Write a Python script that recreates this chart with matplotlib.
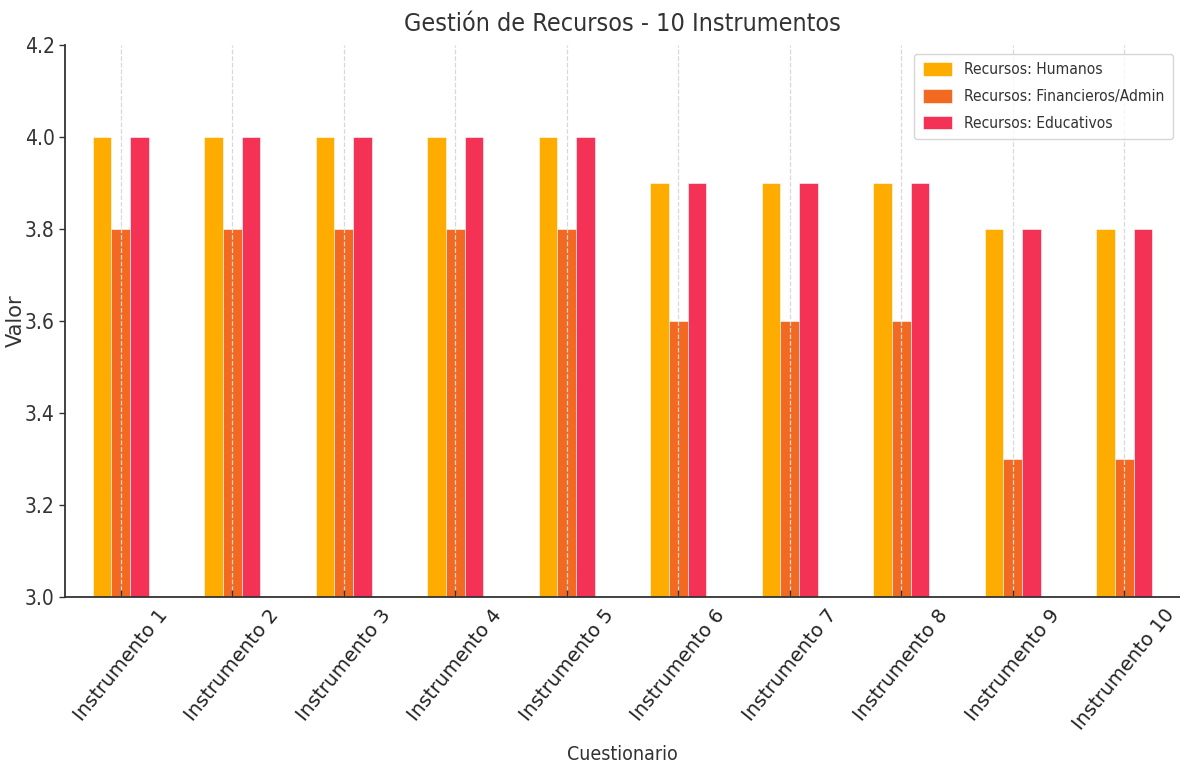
import matplotlib
matplotlib.use("Agg")
import matplotlib.pyplot as plt
import numpy as np

categories = [f"Instrumento {i}" for i in range(1, 11)]
series_names = ["Recursos: Humanos", "Recursos: Financieros/Admin", "Recursos: Educativos"]
humanos = [4.0, 4.0, 4.0, 4.0, 4.0, 3.9, 3.9, 3.9, 3.8, 3.8]
financieros = [3.8, 3.8, 3.8, 3.8, 3.8, 3.6, 3.6, 3.6, 3.3, 3.3]
educativos = [4.0, 4.0, 4.0, 4.0, 4.0, 3.9, 3.9, 3.9, 3.8, 3.8]
yticks = [3.0, 3.2, 3.4, 3.6, 3.8, 4.0, 4.2]

colors = ["#FFAC00", "#F26A22", "#F43256"]
cond = dict(family="DejaVu Sans", stretch="condensed")

fig = plt.figure(figsize=(11.8, 7.69), dpi=100)
ax = fig.add_axes([0.0551, 0.2237, 0.9449, 0.7178])

x = np.arange(len(categories))
w = 0.5 / 3
for k, (vals, name, c) in enumerate(zip([humanos, financieros, educativos], series_names, colors)):
    ax.bar(x + (k - 1) * w, vals, width=w, color=c, label=name,
           edgecolor="white", linewidth=0.4, zorder=2)

ax.set_xlim(-0.5, 9.5)
ax.set_ylim(3.0, 4.2)
ax.set_yticks(yticks)
ax.set_yticklabels([f"{v:.1f}" for v in yticks], fontsize=15, color="#333333", **cond)
ax.set_xticks(x)
ax.set_xticklabels(categories, rotation=51, ha="center", fontsize=14, color="#222222")
ax.tick_params(axis="x", direction="in", length=5, width=1, color="#333333", pad=6)
ax.tick_params(axis="y", direction="out", length=4, width=1, color="#333333")

ax.xaxis.grid(True, linestyle="--", color="#d8d8d8", linewidth=0.9, zorder=3)
ax.set_axisbelow(False)
for s in ["top", "right"]:
    ax.spines[s].set_visible(False)
for s in ["left", "bottom"]:
    ax.spines[s].set_color("#333333")
    ax.spines[s].set_linewidth(1.3)

ax.set_title("Gestión de Recursos - 10 Instrumentos", fontsize=18, color="#333333", pad=10, **cond)
ax.set_xlabel("Cuestionario", fontsize=14, color="#333333", **cond)
ax.xaxis.set_label_coords(0.5, -0.268)
ax.set_ylabel("Valor", fontsize=15, color="#333333")
ax.yaxis.set_label_coords(-0.035, 0.5)

leg = ax.legend(loc="upper right", prop=dict(size=11.2, **cond), frameon=True,
                fancybox=True, edgecolor="#cccccc", handlelength=1.9, handleheight=0.95,
                borderpad=0.55, borderaxespad=0.0, labelspacing=0.75, handletextpad=0.75,
                bbox_to_anchor=(0.9935, 0.984))
for t in leg.get_texts():
    t.set_color("#333333")

fig.savefig("out.png", dpi=100)
